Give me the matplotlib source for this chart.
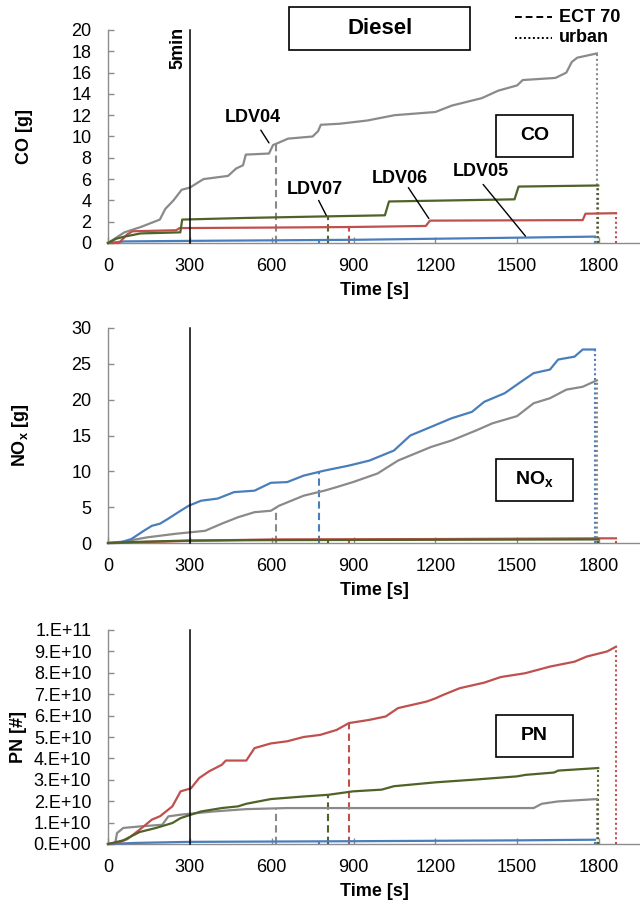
import numpy as np
import matplotlib
matplotlib.use("Agg")
import matplotlib.pyplot as plt
from matplotlib.patches import Rectangle
from matplotlib.lines import Line2D

plt.rcParams['font.family'] = ['Liberation Sans', 'DejaVu Sans']

# ---------------- data ----------------
vehicles = ["LDV04", "LDV05", "LDV06", "LDV07"]
colors = {"LDV04": "#8a8a8a", "LDV05": "#4a7ebb", "LDV06": "#c0504d", "LDV07": "#4f6228"}

# ECT 70 reached (s) and end of urban part (s)
ect70 = {"LDV04": 615, "LDV05": 773, "LDV06": 885, "LDV07": 805}
urban_end = {"LDV04": 1792, "LDV05": 1785, "LDV06": 1862, "LDV07": 1797}

five_min = 300

# CO [g]
co_t = {
    "LDV04": [0, 30, 60, 120, 190, 210, 240, 270, 300, 350, 440, 470, 495, 505, 590, 605, 615,
              660, 750, 770, 780, 850, 950, 1050, 1200, 1260, 1370, 1430, 1500, 1520, 1640,
              1680, 1700, 1720, 1792],
    "LDV05": [0, 60, 300, 600, 900, 1200, 1500, 1785],
    "LDV06": [0, 40, 70, 90, 250, 262, 600, 885, 1165, 1180, 1740, 1750, 1862],
    "LDV07": [0, 30, 60, 120, 265, 272, 500, 800, 1015, 1030, 1490, 1505, 1797],
}
co_v = {
    "LDV04": [0, 0.5, 1.0, 1.5, 2.2, 3.2, 4.0, 5.0, 5.2, 6.0, 6.3, 7.0, 7.3, 8.3, 8.4, 9.2, 9.3,
              9.8, 10.0, 10.5, 11.1, 11.2, 11.5, 12.0, 12.3, 12.9, 13.6, 14.3, 14.8, 15.3, 15.5,
              16.0, 17.0, 17.4, 17.8],
    "LDV05": [0, 0.15, 0.2, 0.25, 0.3, 0.4, 0.5, 0.6],
    "LDV06": [0, 0, 0.8, 1.1, 1.2, 1.4, 1.45, 1.5, 1.6, 2.1, 2.15, 2.75, 2.8],
    "LDV07": [0, 0.4, 0.6, 0.9, 1.0, 2.2, 2.35, 2.5, 2.6, 3.9, 4.1, 5.3, 5.4],
}

# NOx [g]
nox_t = {
    "LDV04": [0, 56, 146, 251, 356, 417, 477, 537, 597, 627, 717, 793, 838, 898, 988, 1063,
              1184, 1259, 1349, 1409, 1499, 1560, 1620, 1680, 1740, 1792],
    "LDV05": [0, 40, 86, 131, 161, 191, 221, 266, 296, 341, 402, 462, 537, 597, 657, 717, 793,
              883, 958, 1048, 1108, 1184, 1259, 1334, 1379, 1454, 1514, 1560, 1620, 1650, 1710,
              1740, 1785],
    "LDV06": [0, 100, 300, 600, 1200, 1800, 1862],
    "LDV07": [0, 100, 300, 600, 1200, 1797],
}
nox_v = {
    "LDV04": [0, 0.2, 0.8, 1.3, 1.7, 2.7, 3.6, 4.3, 4.5, 5.2, 6.6, 7.3, 7.8, 8.5, 9.7, 11.5,
              13.4, 14.3, 15.7, 16.7, 17.7, 19.5, 20.2, 21.4, 21.8, 22.7],
    "LDV05": [0, 0, 0.56, 1.7, 2.4, 2.7, 3.4, 4.5, 5.2, 5.9, 6.2, 7.1, 7.3, 8.4, 8.5, 9.4, 10.1,
              10.8, 11.5, 12.9, 15.0, 16.2, 17.4, 18.3, 19.7, 20.9, 22.5, 23.7, 24.2, 25.6, 26.0,
              27.0, 27.0],
    "LDV06": [0, 0.1, 0.3, 0.5, 0.55, 0.65, 0.65],
    "LDV07": [0, 0.15, 0.35, 0.4, 0.45, 0.5],
}

# PN [#]
pn_t = {
    "LDV04": [0, 26, 33, 56, 116, 199, 221, 266, 387, 507, 657, 1560, 1590, 1650, 1792],
    "LDV05": [0, 100, 300, 900, 1500, 1785],
    "LDV06": [0, 41, 71, 116, 161, 191, 236, 266, 304, 334, 371, 417, 432, 507, 537, 597, 657,
              717, 778, 838, 883, 958, 1018, 1063, 1169, 1199, 1229, 1289, 1379, 1439, 1529,
              1620, 1710, 1755, 1830, 1862],
    "LDV07": [0, 56, 116, 176, 236, 266, 304, 341, 417, 477, 507, 597, 717, 808, 898, 1003,
              1048, 1199, 1334, 1499, 1530, 1635, 1650, 1797],
}
pn_v = {  # in 1e10
    "LDV04": [0, 0, 0.51, 0.75, 0.82, 0.9, 1.29, 1.37, 1.52, 1.63, 1.68, 1.68, 1.88, 1.99, 2.1],
    "LDV05": [0, 0.05, 0.1, 0.13, 0.17, 0.2],
    "LDV06": [0, 0.08, 0.23, 0.67, 1.14, 1.3, 1.76, 2.46, 2.6, 3.08, 3.4, 3.7, 3.9, 3.9, 4.48,
              4.7, 4.8, 5.0, 5.1, 5.33, 5.65, 5.8, 5.96, 6.35, 6.66, 6.8, 6.97, 7.28, 7.54, 7.8,
              7.98, 8.29, 8.52, 8.76, 9.0, 9.22],
    "LDV07": [0, 0.17, 0.56, 0.75, 0.98, 1.21, 1.37, 1.52, 1.68, 1.76, 1.88, 2.1, 2.22, 2.3,
              2.46, 2.54, 2.7, 2.88, 3.0, 3.16, 3.23, 3.34, 3.43, 3.55],
}
pn_scale = 1e10

x_ticks = [0, 300, 600, 900, 1200, 1500, 1800]
co_ticks = list(range(0, 21, 2))
nox_ticks = list(range(0, 31, 5))
pn_ticks = [i * 1e10 for i in range(0, 11)]
pn_ticklabels = ["0.E+00", "1.E+10", "2.E+10", "3.E+10", "4.E+10", "5.E+10",
                 "6.E+10", "7.E+10", "8.E+10", "9.E+10", "1.E+11"]

# ---------------- figure ----------------
W, H = 640, 906
fig = plt.figure(figsize=(W / 100, H / 100), dpi=100)

def fx(px):
    return px / W

def fy(py):
    return 1 - py / H

left = fx(108)
width = 1.0 - left
panels = [
    dict(top=30, bottom=243, t=co_t, v=co_v, scale=1.0, ylim=(0, 20), yt=co_ticks, ytl=None,
         ylabel="CO [g]", ylx=-0.141, box="CO", boxy=136),
    dict(top=328, bottom=543, t=nox_t, v=nox_v, scale=1.0, ylim=(0, 30), yt=nox_ticks, ytl=None,
         ylabel="NO$_\\mathregular{x}$ [g]", ylx=-0.145, box="NO$_\\mathregular{x}$", boxy=480),
    dict(top=630, bottom=844, t=pn_t, v=pn_v, scale=pn_scale, ylim=(0, 1e11), yt=pn_ticks,
         ytl=pn_ticklabels, ylabel="PN [#]", ylx=-0.152, box="PN", boxy=736),
]

spine_col = "#8c8c8c"
axes = []
for p in panels:
    ax = fig.add_axes([left, fy(p["bottom"]), width, (p["bottom"] - p["top"]) / H])
    axes.append(ax)
    for s in ["top", "right"]:
        ax.spines[s].set_visible(False)
    for s in ["left", "bottom"]:
        ax.spines[s].set_color(spine_col)
        ax.spines[s].set_linewidth(1.0)
    ax.set_xlim(0, 1950)
    ax.set_ylim(*p["ylim"])
    ax.set_xticks(x_ticks)
    ax.set_yticks(p["yt"])
    if p["ytl"] is not None:
        ax.set_yticklabels(p["ytl"])
    ax.tick_params(axis="both", direction="in", length=4, width=1, color=spine_col,
                   labelsize=13, labelcolor="black")
    ax.tick_params(axis="x", pad=11)
    ax.tick_params(axis="y", pad=12)
    ax.set_xlabel("Time [s]", fontsize=13, fontweight="bold", labelpad=5)
    ax.set_ylabel(p["ylabel"], fontsize=13, fontweight="bold")
    ax.yaxis.set_label_coords(p["ylx"], 0.5)

    # 5 min line
    ax.plot([five_min, five_min], [p["ylim"][0], p["ylim"][1]], color="black", lw=1.1,
            clip_on=False, zorder=5)

    for veh in vehicles:
        tt = np.array(p["t"][veh], dtype=float)
        vv = np.array(p["v"][veh], dtype=float) * p["scale"]
        c = colors[veh]
        ax.plot(tt, vv, color=c, lw=1.6, zorder=4, clip_on=False, solid_joinstyle="round")
        te = ect70[veh]
        ax.plot([te, te], [0, np.interp(te, tt, vv)], color=c, lw=1.5, ls=(0, (3.5, 2)),
                zorder=3)
        tu = urban_end[veh]
        ax.plot([tu, tu], [0, np.interp(tu, tt, vv)], color=c, lw=1.5, ls=(0, (1, 1.3)),
                zorder=3)

    # title box of each panel
    bx0, bx1 = 496, 573
    by = p["boxy"]
    fig.add_artist(Rectangle((fx(bx0), fy(by + 21)), (bx1 - bx0) / W, 42 / H,
                             transform=fig.transFigure, fill=True, facecolor="white",
                             edgecolor="black", lw=1.2, zorder=6))
    fig.text(fx((bx0 + bx1) / 2), fy(by), p["box"], ha="center", va="center",
             fontsize=14, fontweight="bold", zorder=7)

# vehicle labels on CO panel
ax0 = axes[0]
labels_pos = {"LDV04": (530, 11.75), "LDV07": (758, 5.0), "LDV06": (1070, 6.1),
              "LDV05": (1365, 6.7)}
leaders = {"LDV04": ((560, 10.6), (590, 9.4)), "LDV07": ((772, 4.0), (800, 2.6)),
           "LDV06": ((1101, 5.2), (1176, 2.3)), "LDV05": ((1375, 5.5), (1530, 0.65))}
for veh in vehicles:
    x, y = labels_pos[veh]
    ax0.text(x, y, veh, ha="center", va="center", fontsize=13, fontweight="bold", zorder=8)
    (x1, y1), (x2, y2) = leaders[veh]
    ax0.annotate("", xy=(x2, y2), xytext=(x1, y1),
                 arrowprops=dict(arrowstyle="-", color="black", lw=1.0,
                                 shrinkA=0, shrinkB=0), zorder=8)

# 5min label
fig.text(fx(178), fy(48), "5min", rotation=90, ha="center", va="center",
         fontsize=13, fontweight="bold")

# Diesel box
fig.add_artist(Rectangle((fx(289), fy(50)), (470 - 289) / W, 43 / H,
                         transform=fig.transFigure, facecolor="white", edgecolor="black",
                         lw=1.2, zorder=6))
fig.text(fx(380), fy(29), "Diesel", ha="center", va="center", fontsize=16,
         fontweight="bold", zorder=7)

# legend (line styles)
fig.add_artist(Line2D([fx(515), fx(552)], [fy(17), fy(17)], color="black", lw=1.4,
                      ls=(0, (3.5, 2)), transform=fig.transFigure))
fig.add_artist(Line2D([fx(515), fx(552)], [fy(38), fy(38)], color="black", lw=1.4,
                      ls=(0, (1, 1.3)), transform=fig.transFigure))
fig.text(fx(559), fy(17), "ECT 70", ha="left", va="center", fontsize=13, fontweight="bold")
fig.text(fx(559), fy(38), "urban", ha="left", va="center", fontsize=13, fontweight="bold")

fig.savefig("out.png", dpi=100)
